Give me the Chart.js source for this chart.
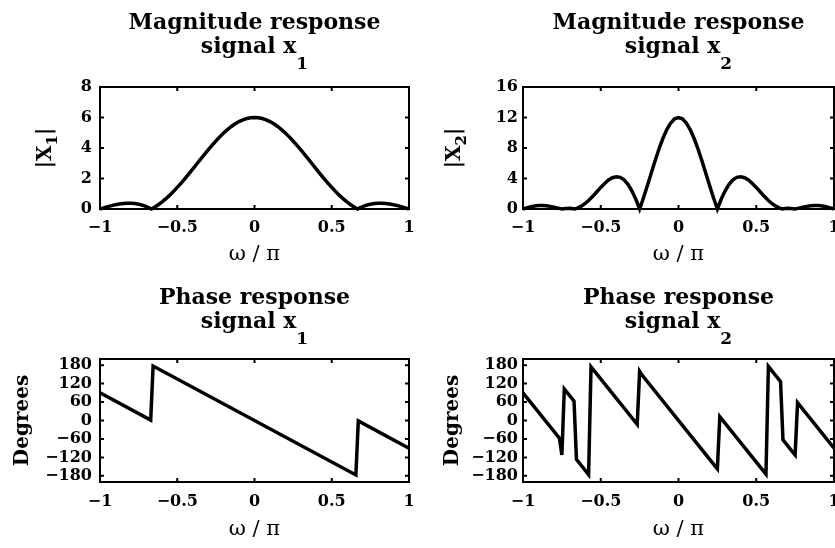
<!DOCTYPE html>
<html>
<head>
<meta charset="utf-8">
<script src="https://cdn.jsdelivr.net/npm/chart.js@4.4.1/dist/chart.umd.min.js"></script>
<style>
  html, body { margin: 0; padding: 0; background: #fff; overflow: hidden; width: 835px; height: 548px; }
  canvas { position: absolute; }
</style>
</head>
<body>
<canvas id="magX1" width="429" height="274" style="left:0;top:0"></canvas>
<canvas id="magX2" width="437" height="274" style="left:417px;top:0"></canvas>
<canvas id="phX1" width="429" height="274" style="left:0;top:274px"></canvas>
<canvas id="phX2" width="437" height="274" style="left:417px;top:274px"></canvas>
<script>
// frequency grid (omega / pi) for the magnitude curves
const omega = [
  -1, -0.975, -0.95, -0.925, -0.9, -0.875, -0.85, -0.825, -0.8, -0.775,
  -0.75, -0.725, -0.7, -0.675, -0.6667, -0.65, -0.625, -0.6, -0.575, -0.55,
  -0.525, -0.5, -0.475, -0.45, -0.425, -0.4, -0.375, -0.35, -0.325, -0.3,
  -0.275, -0.25, -0.225, -0.2, -0.175, -0.15, -0.125, -0.1, -0.075, -0.05, -0.025,
  0,
  0.025, 0.05, 0.075, 0.1, 0.125, 0.15, 0.175, 0.2, 0.225, 0.25,
  0.275, 0.3, 0.325, 0.35, 0.375, 0.4, 0.425, 0.45, 0.475, 0.5,
  0.525, 0.55, 0.575, 0.6, 0.625, 0.65, 0.6667, 0.675, 0.7, 0.725,
  0.75, 0.775, 0.8, 0.825, 0.85, 0.875, 0.9, 0.925, 0.95, 0.975, 1
];

const magX1 = [
  0, 0.078, 0.153, 0.222, 0.282, 0.331, 0.365, 0.383, 0.382, 0.361,
  0.317, 0.250, 0.159, 0.044, 0, 0.096, 0.261, 0.449, 0.660, 0.893,
  1.145, 1.414, 1.699, 1.997, 2.304, 2.618, 2.936, 3.254, 3.569, 3.877,
  4.175, 4.461, 4.730, 4.980, 5.207, 5.410, 5.586, 5.733, 5.849, 5.932, 5.983,
  6,
  5.983, 5.932, 5.849, 5.733, 5.586, 5.410, 5.207, 4.980, 4.730, 4.461,
  4.175, 3.877, 3.569, 3.254, 2.936, 2.618, 2.304, 1.997, 1.699, 1.414,
  1.145, 0.893, 0.660, 0.449, 0.261, 0.096, 0, 0.044, 0.159, 0.250,
  0.317, 0.361, 0.382, 0.383, 0.365, 0.331, 0.282, 0.222, 0.153, 0.078, 0
];

const magX2 = [
  0, 0.154, 0.291, 0.396, 0.457, 0.468, 0.429, 0.348, 0.236, 0.113,
  0, 0.078, 0.099, 0.040, 0, 0.113, 0.369, 0.727, 1.176, 1.698,
  2.261, 2.828, 3.356, 3.798, 4.106, 4.236, 4.152, 3.825, 3.240, 2.396,
  1.306, 0, 1.480, 3.078, 4.728, 6.360, 7.900, 9.276, 10.423, 11.284, 11.819,
  12,
  11.819, 11.284, 10.423, 9.276, 7.900, 6.360, 4.728, 3.078, 1.480, 0,
  1.306, 2.396, 3.240, 3.825, 4.152, 4.236, 4.106, 3.798, 3.356, 2.828,
  2.261, 1.698, 1.176, 0.727, 0.369, 0.113, 0, 0.040, 0.099, 0.078,
  0, 0.113, 0.236, 0.348, 0.429, 0.468, 0.457, 0.396, 0.291, 0.154, 0
];

// phase curves are straight segments: corner points only
const phaseW1 = [-1, -0.671875, -0.65625, 0.65625, 0.671875, 1];
const phaseX1 = [90, 1.4, 177.2, -177.2, -1.4, -90];

const phaseW2 = [
  -1, -0.765625, -0.75, -0.734375, -0.671875, -0.65625, -0.578125, -0.5625,
  -0.265625, -0.25, -0.234375, 0.234375, 0.25, 0.265625, 0.5625, 0.578125,
  0.65625, 0.671875, 0.734375, 0.75, 0.765625, 1
];
const phaseX2 = [
  90, -57.7, -112, 102.7, 63.3, -126.6, -175.8, 174.4,
  -12.7, 160, 147.7, -147.7, -157.5, 12.7, -174.4, 175.8,
  126.6, -63.3, -102.7, -112, 57.7, -90
];

const xTicks = [-1, -0.5, 0, 0.5, 1];
const magTicks1 = [0, 2, 4, 6, 8];
const magTicks2 = [0, 4, 8, 12, 16];
const phaseTicks = [-180, -120, -60, 0, 60, 120, 180];

const SERIF = '"DejaVu Serif", "Liberation Serif", serif';
const minus = (v) => String(v).replace('-', '\u2212');

// draws a run of text pieces, some of them as subscripts
function drawRun(ctx, parts, x, y, size, subSize, subDy) {
  const fonts = parts.map((p) => (p.sub ? `bold ${subSize}px ${SERIF}` : p.font || `bold ${size}px ${SERIF}`));
  const widths = parts.map((p, i) => { ctx.font = fonts[i]; return ctx.measureText(p.t).width; });
  let px = x - widths.reduce((s, w) => s + w, 0) / 2;
  ctx.textAlign = 'left';
  parts.forEach((p, i) => {
    ctx.font = fonts[i];
    ctx.fillText(p.t, px, y + (p.sub ? subDy : 0));
    px += widths[i];
  });
}

// titles and axis labels
const textPlugin = {
  id: 'panelText',
  afterDraw(chart, args, o) {
    const { ctx, chartArea: a } = chart;
    const cx = (a.left + a.right) / 2;
    const cy = (a.top + a.bottom) / 2;
    ctx.save();
    ctx.fillStyle = '#000';
    ctx.textBaseline = 'alphabetic';
    drawRun(ctx, [{ t: o.title }], cx, o.titleY, 22, 17, 0);
    drawRun(ctx, [{ t: 'signal x' }, { t: o.sub, sub: true }], cx, o.titleY + 24, 22, 17, 16);
    drawRun(ctx, [{ t: '\u03c9 / \u03c0', font: `21px ${SERIF}` }], cx, o.xLabelY, 21, 15, 0);
    ctx.translate(o.yLabelX, cy);
    ctx.rotate(-Math.PI / 2);
    drawRun(ctx, o.yLabel, 0, 0, 20, 15, 6);
    ctx.restore();
  }
};

// box round the axes with inward tick marks on all four sides
const boxPlugin = {
  id: 'matBox',
  afterDatasetsDraw(chart) {
    const { ctx, chartArea: a, scales: { x, y } } = chart;
    ctx.save();
    ctx.strokeStyle = '#000';
    ctx.lineWidth = 2;
    ctx.strokeRect(a.left, a.top, a.right - a.left, a.bottom - a.top);
    ctx.beginPath();
    x.ticks.forEach((t) => {
      const px = x.getPixelForValue(t.value);
      ctx.moveTo(px, a.bottom); ctx.lineTo(px, a.bottom - 4);
      ctx.moveTo(px, a.top); ctx.lineTo(px, a.top + 4);
    });
    y.ticks.forEach((t) => {
      const py = y.getPixelForValue(t.value);
      ctx.moveTo(a.left, py); ctx.lineTo(a.left + 4, py);
      ctx.moveTo(a.right, py); ctx.lineTo(a.right - 4, py);
    });
    ctx.stroke();
    ctx.restore();
  }
};

function panel(id, p) {
  const points = p.xs.map((x, i) => ({ x, y: p.ys[i] }));
  const canvas = document.getElementById(id);
  const tickFont = { family: SERIF, weight: 'bold', size: 16 };
  return new Chart(canvas, {
    type: 'line',
    data: {
      datasets: [{
        data: points,
        borderColor: '#000',
        borderWidth: 3.5,
        pointRadius: 0,
        tension: 0,
        clip: false,
      }],
    },
    options: {
      responsive: false,
      animation: false,
      layout: { padding: { top: p.top, right: 20, left: 0, bottom: 0 } },
      plugins: {
        legend: { display: false },
        tooltip: { enabled: false },
        panelText: p.text,
      },
      scales: {
        x: {
          type: 'linear',
          min: -1,
          max: 1,
          grid: { display: false, drawTicks: false },
          border: { display: false },
          afterBuildTicks: (s) => { s.ticks = xTicks.map((v) => ({ value: v })); },
          afterFit: (s) => { s.height = p.xAxisH; },
          ticks: { autoSkip: false, maxRotation: 0, padding: p.xPad, color: '#000', font: tickFont, callback: minus },
        },
        y: {
          min: p.yMin,
          max: p.yMax,
          grid: { display: false, drawTicks: false },
          border: { display: false },
          afterBuildTicks: (s) => { s.ticks = p.yTicks.map((v) => ({ value: v })); },
          afterFit: (s) => { s.width = p.yAxisW; },
          ticks: { autoSkip: false, padding: p.yPad, color: '#000', font: tickFont, callback: minus },
        },
      },
    },
    plugins: [boxPlugin, textPlugin],
  });
}

panel('magX1', {
  xs: omega, ys: magX1, yMin: 0, yMax: 8, yTicks: magTicks1,
  top: 87, xAxisH: 65, yAxisW: 100, xPad: 9, yPad: 8,
  text: { title: 'Magnitude response', sub: '1', titleY: 29, xLabelY: 260, yLabelX: 51,
    yLabel: [{ t: '|X' }, { t: '1', sub: true }, { t: '|' }] },
});
panel('magX2', {
  xs: omega, ys: magX2, yMin: 0, yMax: 16, yTicks: magTicks2,
  top: 87, xAxisH: 65, yAxisW: 106, xPad: 9, yPad: 5,
  text: { title: 'Magnitude response', sub: '2', titleY: 29, xLabelY: 260, yLabelX: 43,
    yLabel: [{ t: '|X' }, { t: '2', sub: true }, { t: '|' }] },
});
panel('phX1', {
  xs: phaseW1, ys: phaseX1, yMin: -200, yMax: 200, yTicks: phaseTicks,
  top: 85, xAxisH: 66, yAxisW: 100, xPad: 10, yPad: 8,
  text: { title: 'Phase response', sub: '1', titleY: 30, xLabelY: 261, yLabelX: 28,
    yLabel: [{ t: 'Degrees' }] },
});
panel('phX2', {
  xs: phaseW2, ys: phaseX2, yMin: -200, yMax: 200, yTicks: phaseTicks,
  top: 85, xAxisH: 66, yAxisW: 106, xPad: 10, yPad: 5,
  text: { title: 'Phase response', sub: '2', titleY: 30, xLabelY: 261, yLabelX: 41,
    yLabel: [{ t: 'Degrees' }] },
});
</script>
</body>
</html>
